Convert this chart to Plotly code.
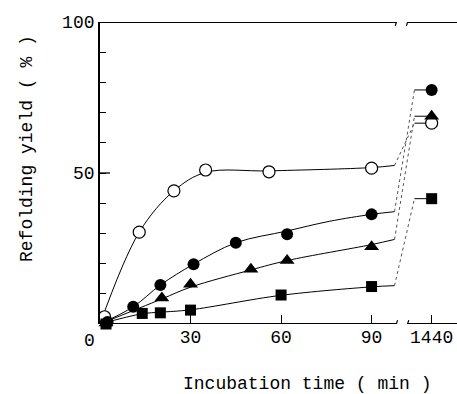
import plotly.graph_objects as go

# ---------------- data ----------------
LATE_TIME = 1440  # last sampling time (min), shown after the axis break

OPEN_T = [1.5, 13, 24.5, 35, 56, 90]
OPEN_Y = [2.4, 30.4, 44.1, 51.0, 50.4, 51.6]
OPEN_LATE = 66.5
OPEN_FIT_T = [0, 13, 24.5, 35, 56, 90, 97.6]
OPEN_FIT_Y = [0, 30.4, 44.1, 50.2, 50.7, 51.8, 52.5]

FCIRC_T = [2.5, 11, 20, 31, 45, 62, 90]
FCIRC_Y = [0.7, 5.7, 12.9, 19.8, 26.9, 29.7, 36.3]
FCIRC_LATE = 77.5
FCIRC_FIT_T = [0, 11, 20, 31, 45, 62, 76, 90, 97.6]
FCIRC_FIT_Y = [0, 5.7, 12.9, 19.8, 26.9, 30.8, 34.0, 36.3, 37.2]

TRI_T = [2, 20.5, 30, 50, 62, 90]
TRI_Y = [0.3, 8.6, 13.2, 18.1, 21.0, 25.6]
TRI_LATE = 68.8
TRI_FIT_T = [0, 20.5, 30, 50, 62, 90, 97.6]
TRI_FIT_Y = [0, 8.3, 12.2, 17.9, 21.0, 26.3, 28.0]

SQ_T = [2, 14, 20, 30, 60, 90]
SQ_Y = [0.0, 3.5, 3.7, 4.6, 9.6, 12.4]
SQ_LATE = 41.5
SQ_FIT_T = [0, 14, 20, 30, 60, 90, 97.6]
SQ_FIT_Y = [0, 3.4, 3.9, 4.7, 9.5, 12.3, 12.7]

X_TICK_VALUES = [30, 60, 90, LATE_TIME]
X_TICK_LABELS = ["30", "60", "90", "1440"]
Y_LABELLED = [50, 100]
Y_TICK_STEP = 10

X_TITLE = "Incubation time ( min )"
Y_TITLE = "Refolding yield ( % )"

# ---------------- layout constants (broken axis) ----------------
X_MAX = 118.3        # right end of the drawing range
LEFT_END = 98.2      # end of the left axis segment
RIGHT_START = 101.9  # start of the right axis segment
KNEE = 104.2         # where the dotted connectors end
LATE_POS = 109.9     # display position of the 1440-min column
LONG_TICK = 3.3      # length (x units) of the long y tick

FONT = "Liberation Mono"


def pos(t):
    return t if t <= LEFT_END else LATE_POS


fig = go.Figure()

series = [
    (OPEN_T, OPEN_Y, OPEN_LATE, OPEN_FIT_T, OPEN_FIT_Y,
     dict(symbol="circle", size=12, color="white", line=dict(color="black", width=1.2))),
    (FCIRC_T, FCIRC_Y, FCIRC_LATE, FCIRC_FIT_T, FCIRC_FIT_Y,
     dict(symbol="circle", size=12, color="black", line=dict(color="black", width=0))),
    (TRI_T, TRI_Y, TRI_LATE, TRI_FIT_T, TRI_FIT_Y,
     dict(symbol="triangle-up", size=13, color="black", line=dict(color="black", width=0))),
    (SQ_T, SQ_Y, SQ_LATE, SQ_FIT_T, SQ_FIT_Y,
     dict(symbol="square", size=11, color="black", line=dict(color="black", width=0))),
]

# lines first
for t, y, late, ft, fy, mk in series:
    fig.add_trace(go.Scatter(x=ft, y=fy, mode="lines",
                             line=dict(color="black", width=1, shape="spline", smoothing=1.0),
                             hoverinfo="skip", showlegend=False))
    fig.add_trace(go.Scatter(x=[ft[-1], KNEE], y=[fy[-1], late], mode="lines",
                             line=dict(color="#555555", width=1, dash="dot"),
                             hoverinfo="skip", showlegend=False))
    fig.add_trace(go.Scatter(x=[KNEE, pos(LATE_TIME)], y=[late, late], mode="lines",
                             line=dict(color="black", width=1),
                             hoverinfo="skip", showlegend=False))

# markers on top
for t, y, late, ft, fy, mk in series:
    fig.add_trace(go.Scatter(x=[pos(v) for v in t] + [pos(LATE_TIME)], y=list(y) + [late],
                             mode="markers", marker=mk, cliponaxis=False,
                             showlegend=False))

# broken axis lines (bottom and top) with break marks
shapes = []
for yy in (0, 100):
    shapes.append(dict(type="line", xref="x", yref="y", x0=0, x1=LEFT_END, y0=yy, y1=yy,
                       line=dict(color="black", width=1.8)))
    shapes.append(dict(type="line", xref="x", yref="y", x0=RIGHT_START, x1=X_MAX, y0=yy, y1=yy,
                       line=dict(color="black", width=1.8)))
    for bx in (LEFT_END, RIGHT_START):
        shapes.append(dict(type="line", xref="x", yref="y", x0=bx - 0.35, x1=bx + 0.4,
                           y0=yy - 1.3, y1=yy + 1.3, line=dict(color="black", width=1.2)))
# longer tick at the labelled middle value
for yv in Y_LABELLED[:-1]:
    shapes.append(dict(type="line", xref="x", yref="y", x0=0, x1=LONG_TICK, y0=yv, y1=yv,
                       line=dict(color="black", width=1.3)))

annotations = [
    dict(text="0", x=0, y=0, xref="x", yref="y", xanchor="right", yanchor="top",
         xshift=-3, yshift=-5, showarrow=False, font=dict(family=FONT, size=18, color="black")),
    dict(text=Y_TITLE, x=(27 - 100) / 357, y=(324 - 149) / 302, xref="paper", yref="paper",
         xanchor="center", yanchor="middle", textangle=-90, showarrow=False,
         font=dict(family=FONT, size=18, color="black")),
    dict(text=X_TITLE, x=(307 - 100) / 357, y=(324 - 384) / 302, xref="paper", yref="paper",
         xanchor="center", yanchor="middle", showarrow=False,
         font=dict(family=FONT, size=18, color="black")),
]

fig.update_layout(
    width=457, height=394,
    margin=dict(l=100, r=0, t=22, b=70),
    paper_bgcolor="white", plot_bgcolor="white",
    showlegend=False,
    shapes=shapes,
    annotations=annotations,
    font=dict(family=FONT, size=18, color="black"),
)

fig.update_xaxes(
    range=[0, X_MAX], showline=False, showgrid=False, zeroline=False,
    tickmode="array", tickvals=[pos(v) for v in X_TICK_VALUES], ticktext=X_TICK_LABELS,
    ticks="inside", ticklen=9, tickwidth=1.2, tickcolor="black",
    tickfont=dict(family=FONT, size=18, color="black"),
)
hidden = {str(v): " " for v in range(0, 101, Y_TICK_STEP) if v not in Y_LABELLED}
fig.update_yaxes(
    range=[0, 100], showline=True, linecolor="black", linewidth=1.8,
    showgrid=False, zeroline=False,
    tickmode="linear", tick0=0, dtick=Y_TICK_STEP, labelalias=hidden,
    ticks="inside", ticklen=6, tickwidth=1.1, tickcolor="black",
    tickfont=dict(family=FONT, size=18, color="black"),
)

fig.write_html("out.html")
